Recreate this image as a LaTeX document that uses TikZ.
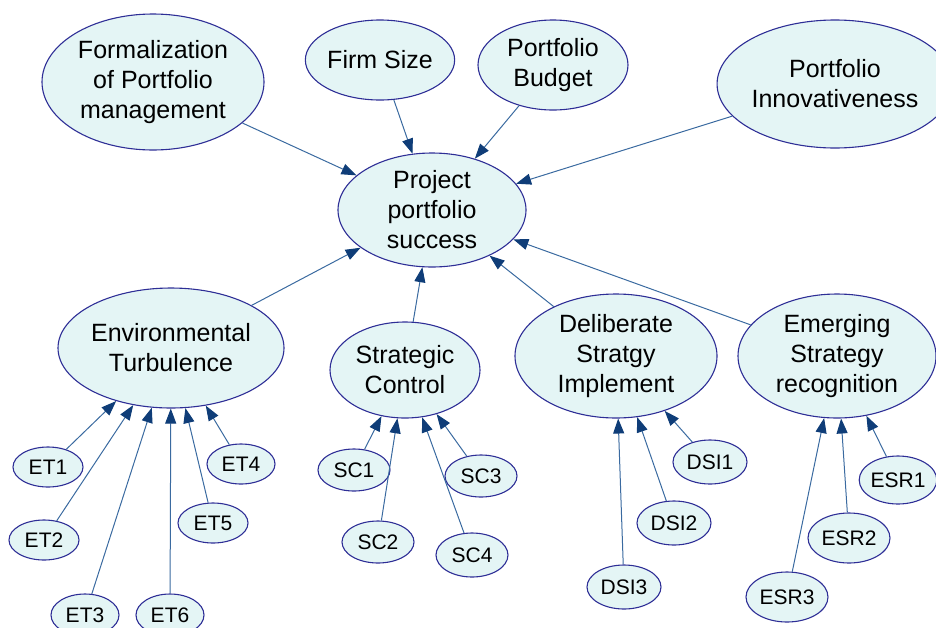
\documentclass[tikz,border=0pt]{standalone}
\usepackage{fontspec}
\setmainfont{Liberation Sans}
\usetikzlibrary{shapes.geometric,arrows.meta}
\definecolor{nodefill}{HTML}{E4F5F5}
\definecolor{nodeline}{HTML}{2E2E96}
\definecolor{edgeline}{HTML}{3A6AA0}
\definecolor{tipblue}{HTML}{0F3D78}
\tikzset{
  bubble/.style n args={2}{ellipse, draw=nodeline, fill=nodefill, line width=1.1pt,
    minimum width=#1pt, minimum height=#2pt, inner sep=0pt, align=center,
    font=\fontsize{25}{30}\selectfont},
  small/.style n args={2}{bubble={#1}{#2}, font=\fontsize{21}{25}\selectfont},
  link/.style={draw=edgeline, line width=1pt,
    -{Triangle[length=15pt,width=11pt,color=tipblue]}}
}
\begin{document}
\begin{tikzpicture}[x=1pt,y=-1pt]
\useasboundingbox (0,0) rectangle (936,627);
% large nodes
\node[bubble={222}{136}] (form) at (153,82) {Formalization\\of Portfolio\\management};
\node[bubble={130}{80}] (firm) at (380,60) {Firm Size};
\node[bubble={150}{90}] (budget) at (553,65) {Portfolio\\Budget};
\node[bubble={200}{128}] (innov) at (835,84) {Portfolio\\Innovativeness};
\node[bubble={188}{114}] (pps) at (432,210) {Project\\portfolio\\success};
\node[bubble={200}{120}] (et) at (171,348) {Environmental\\Turbulence};
\node[bubble={150}{96}] (sc) at (405,370) {Strategic\\Control};
\node[bubble={202}{124}] (dsi) at (616,356) {Deliberate\\Stratgy\\Implement};
\node[bubble={198}{124}] (esr) at (837,356) {Emerging\\Strategy\\recognition};
% small nodes
\node[small={70}{40}] (et1) at (48,467) {ET1};
\node[small={70}{40}] (et2) at (44,540) {ET2};
\node[small={68}{42}] (et3) at (85,615) {ET3};
\node[small={68}{42}] (et6) at (170,615) {ET6};
\node[small={68}{40}] (et4) at (241,464) {ET4};
\node[small={70}{40}] (et5) at (213,523) {ET5};
\node[small={72}{42}] (sc1) at (354,470) {SC1};
\node[small={72}{42}] (sc2) at (378,542) {SC2};
\node[small={72}{42}] (sc3) at (481,476) {SC3};
\node[small={72}{44}] (sc4) at (472,555) {SC4};
\node[small={74}{44}] (dsi1) at (710,462) {DSI1};
\node[small={74}{44}] (dsi2) at (674,523) {DSI2};
\node[small={74}{44}] (dsi3) at (624,587) {DSI3};
\node[small={76}{48}] (esr1) at (898,480) {ESR1};
\node[small={82}{50}] (esr2) at (849,538) {ESR2};
\node[small={82}{50}] (esr3) at (787,597) {ESR3};
% connectors to the centre
\foreach \s in {form,firm,budget,innov,et,sc,dsi,esr}
  \draw[link] (\s) -- (pps);
\foreach \s in {et1,et2,et3,et4,et5,et6}
  \draw[link] (\s) -- (et);
\foreach \s in {sc1,sc2,sc3,sc4}
  \draw[link] (\s) -- (sc);
\foreach \s in {dsi1,dsi2,dsi3}
  \draw[link] (\s) -- (dsi);
\foreach \s in {esr1,esr2,esr3}
  \draw[link] (\s) -- (esr);
\end{tikzpicture}
\end{document}
